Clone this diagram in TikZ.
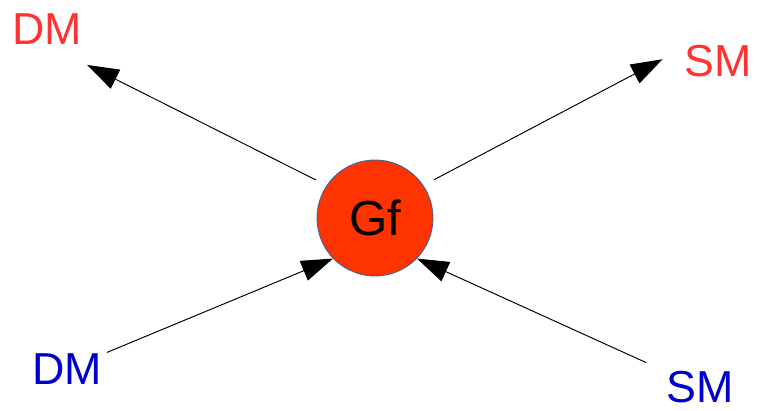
\documentclass[tikz,border=0pt]{standalone}
\usepackage{fontspec}
\setmainfont{Liberation Sans}
\usepackage{tikz}
\usetikzlibrary{arrows.meta}
\definecolor{gfred}{HTML}{FF3300}
\definecolor{gfedge}{HTML}{3465A4}
\definecolor{outred}{HTML}{FF3333}
\definecolor{inblue}{HTML}{0000CC}
\tikzset{
    gfball/.style={
        circle, draw=gfedge, line width=0.5pt, fill=gfred,
        minimum size=1.16*2.0cm, inner sep=0pt,
        font=\fontsize{28}{32}\selectfont},
    gflabel/.style={inner sep=0pt, font=\fontsize{25.5}{30}\selectfont},
    gfout/.style={gflabel, text=outred},
    gfin/.style={gflabel, text=inblue},
    gfflow/.style={-{Triangle[length=18pt,width=12pt]}, line width=0.55pt},
}
\begin{document}
\begin{tikzpicture}[x=0.02cm, y=-0.02cm]
    \useasboundingbox (0,0) rectangle (757,411);

    % --- centre -------------------------------------------------------------------
    \node[gfball] (gf) at (375,218) {Gf};

    % --- labels -------------------------------------------------------------------
    \node[gfout] (dmout) at (47,29) {DM};
    \node[gfout] (smout) at (718,61) {SM};
    \node[gfin] (dmin) at (67,369) {DM};
    \node[gfin] (smin) at (700,387) {SM};

    % --- arrows -------------------------------------------------------------------
    \draw[gfflow, shorten <=0.24cm, shorten >=0.9cm] (gf.146) -- (dmout.south);
    \draw[gfflow, shorten <=0.24cm, shorten >=0.62cm] (gf.34) -- (smout.150);
    \draw[gfflow, shorten <=0.1cm] (dmin) -- (gf.224);
    \draw[gfflow, shorten <=0.44cm] (smin) -- (gf.316);

\end{tikzpicture}
\end{document}
